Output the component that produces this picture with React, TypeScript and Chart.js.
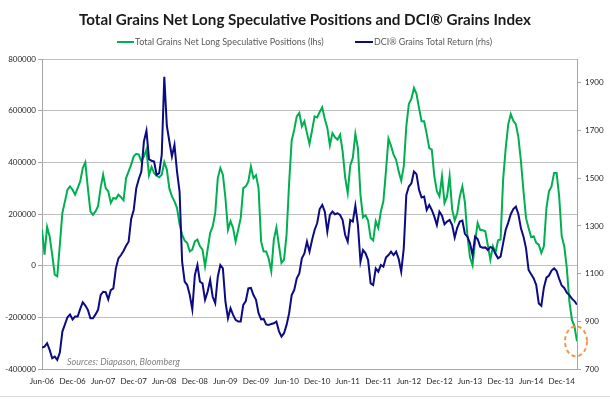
import React, { useEffect, useRef } from "react";
import { Chart, registerables } from "chart.js";

Chart.register(...registerables);

// ---- data ----
const xTickLabels = [
  "Jun-06", "Dec-06", "Jun-07", "Dec-07", "Jun-08", "Dec-08", "Jun-09", "Dec-09", "Jun-10",
  "Dec-10", "Jun-11", "Dec-11", "Jun-12", "Dec-12", "Jun-13", "Dec-13", "Jun-14", "Dec-14",
];
const leftTicks = [-400000, -200000, 0, 200000, 400000, 600000, 800000];
const rightTicks = [700, 900, 1100, 1300, 1500, 1700, 1900];

// half-monthly readings starting Jun-06 (thousands of contracts)
const netLongThousands = [
  140, 43, 150, 113, 43, -35, -41, 81, 204, 249,
  294, 307, 294, 275, 300, 326, 378, 400, 300, 210,
  197, 210, 230, 300, 352, 300, 288, 243, 262, 259,
  275, 265, 253, 339, 365, 391, 423, 433, 430, 404,
  423, 449, 350, 382, 359, 348, 342, 352, 401, 372,
  298, 268, 249, 223, 161, 120, 97, 88, 55, 62,
  94, 101, 75, 62, -3, 62, 126, 152, 204, 339,
  378, 352, 262, 139, 172, 146, 94, 139, 184, 300,
  307, 326, 384, 339, 350, 300, 94, 55, 55, 27,
  -22, 101, 148, 79, 10, 23, 120, 320, 484, 526,
  578, 591, 539, 559, 513, 471, 523, 578, 574, 595,
  613, 568, 533, 466, 513, 497, 488, 507, 443, 342,
  281, 388, 417, 510, 455, 275, 187, 195, 174, 107,
  98, 172, 146, 210, 249, 365, 492, 464, 430, 410,
  365, 329, 384, 539, 626, 646, 688, 665, 610, 559,
  559, 510, 455, 449, 346, 288, 268, 346, 243, 268,
  346, 217, 175, 204, 268, 307, 245, 114, 32, 1,
  94, 165, 139, 137, 133, 79, 23, 75, 49, 98,
  101, 333, 453, 546, 587, 561, 548, 497, 404, 288,
  184, 146, 110, 114, 88, 81, 49, 75, 223, 288,
  307, 359, 359, 268, 114, 75, -9, -138, -209, -235,
  -293,
];

const dciGrainsTR = [
  790, 794, 808, 780, 745, 752, 738, 769, 857, 887,
  917, 929, 908, 920, 920, 952, 980, 966, 948, 913,
  913, 929, 948, 1010, 1024, 1022, 992, 1031, 1038, 1122,
  1164, 1178, 1195, 1217, 1234, 1329, 1367, 1458, 1497, 1528,
  1654, 1699, 1580, 1573, 1570, 1514, 1521, 1598, 1925, 1720,
  1654, 1591, 1640, 1528, 1444, 1150, 1066, 1052, 1010, 950,
  1094, 1136, 1066, 1059, 990, 1024, 1073, 1003, 976, 1087,
  1136, 1122, 983, 913, 955, 927, 906, 899, 899, 969,
  985, 1038, 1040, 1010, 990, 934, 908, 910, 887, 885,
  889, 892, 899, 859, 836, 850, 885, 934, 1010, 1031,
  1080, 1101, 1164, 1185, 1234, 1192, 1241, 1283, 1311, 1371,
  1388, 1360, 1276, 1346, 1360, 1349, 1353, 1346, 1325, 1262,
  1234, 1325, 1318, 1385, 1304, 1150, 1199, 1185, 1157, 1059,
  1052, 1122, 1108, 1136, 1129, 1167, 1178, 1192, 1178, 1192,
  1162, 1108, 1206, 1430, 1465, 1479, 1528, 1517, 1451, 1419,
  1423, 1367, 1388, 1367, 1339, 1304, 1360, 1343, 1307, 1318,
  1325, 1304, 1251, 1293, 1318, 1322, 1267, 1255, 1227, 1178,
  1255, 1245, 1213, 1209, 1210, 1199, 1212, 1206, 1183, 1164,
  1171, 1227, 1283, 1314, 1349, 1371, 1381, 1349, 1290, 1255,
  1206, 1115, 1097, 1080, 1052, 975, 965, 1041, 1083, 1092,
  1113, 1122, 1111, 1078, 1050, 1040, 1020, 1010, 995, 985,
  970,
];

const MONTHS_PER_POINT = 0.5;
const MONTHS_PER_LABEL = 6;

const TITLE = "Total Grains Net Long Speculative Positions and DCI\u00AE Grains Index";
const LEGEND_GREEN = "Total Grains Net Long Speculative Positions (lhs)";
const LEGEND_BLUE = "DCI\u00AE Grains Total Return (rhs)";
const SOURCE = "Sources: Diapason, Bloomberg";

const GREEN = "#00b050";
const BLUE = "#0b0b83";
const FONT = "Lato";

export default function App() {
  const canvasRef = useRef<HTMLCanvasElement | null>(null);

  useEffect(() => {
    document.body.style.margin = "0";
    const canvas = canvasRef.current;
    if (!canvas) return;

    const greenData = netLongThousands.map((v, i) => ({ x: i * MONTHS_PER_POINT, y: v * 1000 }));
    const blueData = dciGrainsTR.map((v, i) => ({ x: i * MONTHS_PER_POINT, y: v }));
    const lastX = (netLongThousands.length - 1) * MONTHS_PER_POINT;

    const decor = {
      id: "decor",
      beforeDraw(chart: any) {
        const ctx = chart.ctx;
        ctx.save();
        ctx.fillStyle = "#ffffff";
        ctx.fillRect(0, 0, chart.width, chart.height);
        ctx.restore();
      },
      afterDraw(chart: any) {
        const ctx = chart.ctx;
        ctx.save();
        // title
        ctx.fillStyle = "#1a1a1a";
        ctx.font = `bold 16px ${FONT}`;
        ctx.textAlign = "center";
        ctx.textBaseline = "alphabetic";
        ctx.fillText(TITLE, 305, 25, 452);
        // legend
        ctx.lineWidth = 2;
        ctx.strokeStyle = GREEN;
        ctx.beginPath();
        ctx.moveTo(117, 42);
        ctx.lineTo(134, 42);
        ctx.stroke();
        ctx.strokeStyle = BLUE;
        ctx.beginPath();
        ctx.moveTo(355, 42);
        ctx.lineTo(373, 42);
        ctx.stroke();
        ctx.fillStyle = "#595959";
        ctx.font = `9px ${FONT}`;
        ctx.textAlign = "left";
        ctx.textBaseline = "middle";
        ctx.fillText(LEGEND_GREEN, 135, 42, 197);
        ctx.fillText(LEGEND_BLUE, 374, 42, 118);
        // source
        ctx.fillStyle = "#7f7f7f";
        ctx.font = `italic 9px ${FONT}`;
        ctx.fillText(SOURCE, 67, 362, 123);
        // highlight ellipse around last reading
        const xs = chart.scales.x;
        const ys = chart.scales.y;
        const cx = xs.getPixelForValue(lastX) - 1;
        const cy = ys.getPixelForValue(netLongThousands[netLongThousands.length - 1] * 1000);
        ctx.strokeStyle = "#f79646";
        ctx.lineWidth = 2;
        ctx.setLineDash([4, 3]);
        ctx.beginPath();
        ctx.ellipse(cx, cy, 11, 15, 0, 0, Math.PI * 2);
        ctx.stroke();
        ctx.setLineDash([]);
        // outer frame bottom
        ctx.strokeStyle = "#d9d9d9";
        ctx.lineWidth = 1;
        ctx.beginPath();
        ctx.moveTo(0, 396.5);
        ctx.lineTo(610, 396.5);
        ctx.stroke();
        ctx.restore();
      },
    };

    const tickFont = { family: FONT, size: 8 };

    const chart = new Chart(canvas, {
      type: "line",
      data: {
        datasets: [
          {
            label: LEGEND_GREEN,
            data: greenData,
            borderColor: GREEN,
            borderWidth: 2,
            pointRadius: 0,
            tension: 0,
            yAxisID: "y",
            order: 1,
          },
          {
            label: LEGEND_BLUE,
            data: blueData,
            borderColor: BLUE,
            borderWidth: 2,
            pointRadius: 0,
            tension: 0,
            yAxisID: "y1",
            order: 0,
          },
        ],
      },
      options: {
        responsive: false,
        animation: false,
        devicePixelRatio: 1,
        layout: { padding: { top: 59, left: 0, right: 0, bottom: 0 } },
        plugins: {
          legend: { display: false },
          title: { display: false },
          tooltip: { enabled: false },
        },
        scales: {
          x: {
            type: "linear",
            min: 0,
            max: lastX,
            grid: { display: false, drawTicks: false },
            border: { color: "#a6a6a6", width: 1 },
            afterBuildTicks: (s: any) => {
              s.ticks = xTickLabels.map((_, i) => ({ value: i * MONTHS_PER_LABEL }));
            },
            ticks: {
              autoSkip: false,
              maxRotation: 0,
              minRotation: 0,
              padding: 8,
              color: "#262626",
              font: tickFont,
              callback: (v: any) => xTickLabels[Math.round(Number(v) / MONTHS_PER_LABEL)] ?? "",
            },
            afterFit: (s: any) => {
              s.height = 30;
            },
          },
          y: {
            type: "linear",
            position: "left",
            min: leftTicks[0],
            max: leftTicks[leftTicks.length - 1],
            afterBuildTicks: (s: any) => {
              s.ticks = leftTicks.map((v) => ({ value: v }));
            },
            grid: { color: "#bfbfbf", tickLength: 4, tickColor: "#a6a6a6", lineWidth: 1 },
            border: { color: "#a6a6a6", width: 1 },
            ticks: {
              padding: 2,
              color: "#262626",
              font: tickFont,
              callback: (v: any) => String(v),
            },
            afterFit: (s: any) => {
              s.width = 42;
            },
          },
          y1: {
            type: "linear",
            position: "right",
            min: 700,
            max: 2000,
            afterBuildTicks: (s: any) => {
              s.ticks = rightTicks.map((v) => ({ value: v }));
            },
            grid: { drawOnChartArea: false, tickLength: 4, color: "#a6a6a6" },
            border: { color: "#a6a6a6", width: 1 },
            ticks: {
              padding: 4,
              color: "#262626",
              font: tickFont,
              callback: (v: any) => String(v),
            },
            afterFit: (s: any) => {
              s.width = 33;
            },
          },
        },
      } as any,
      plugins: [decor],
    });

    return () => chart.destroy();
  }, []);

  return (
    <div style={{ width: 610, height: 399 }}>
      <canvas ref={canvasRef} width={610} height={399} style={{ display: "block" }} />
    </div>
  );
}
